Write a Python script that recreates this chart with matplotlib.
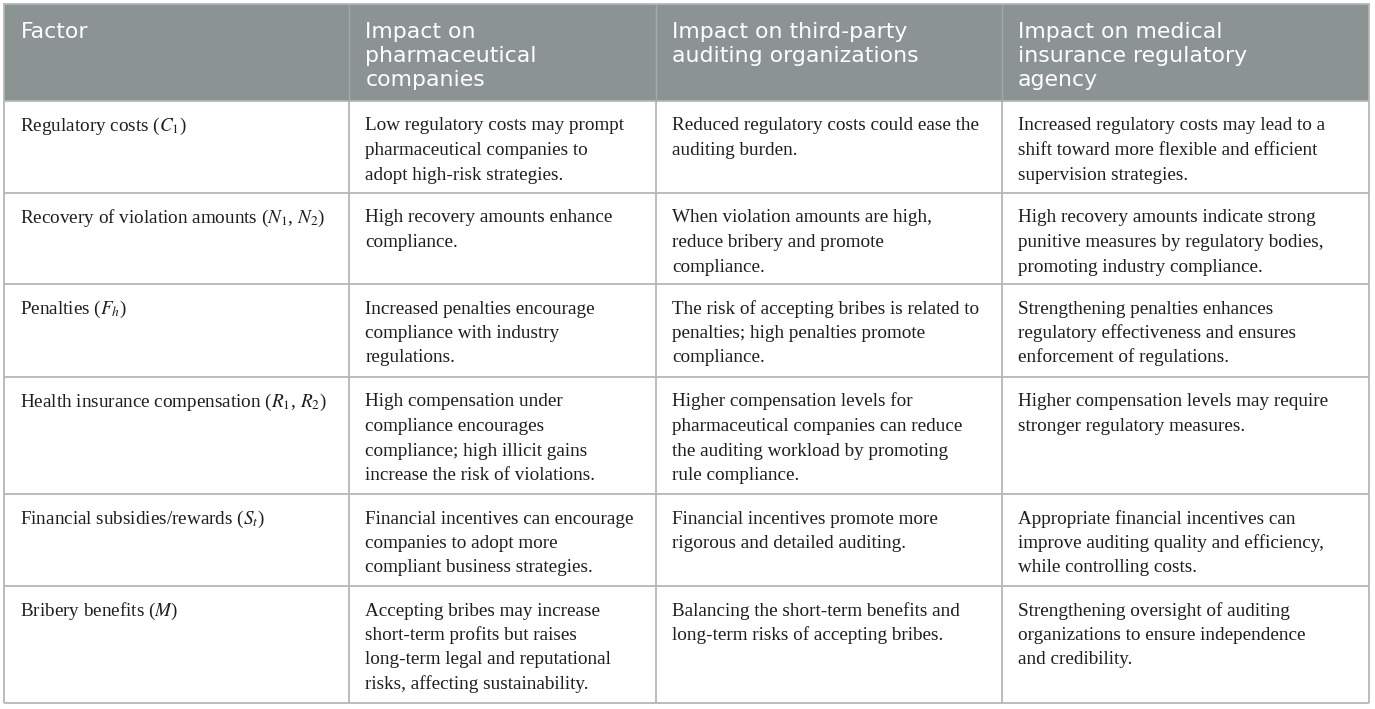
import matplotlib.pyplot as plt
from matplotlib.patches import Rectangle

plt.rcParams['mathtext.fontset'] = 'stix'

headers = [
    'Factor',
    'Impact on\npharmaceutical\ncompanies',
    'Impact on third-party\nauditing organizations',
    'Impact on medical\ninsurance regulatory\nagency',
]

factors = [
    'Regulatory costs ($C_1$)',
    'Recovery of violation amounts ($N_1$, $N_2$)',
    'Penalties ($F_h$)',
    'Health insurance compensation ($R_1$, $R_2$)',
    'Financial subsidies/rewards ($S_t$)',
    'Bribery benefits ($M$)',
]

pharma = [
    'Low regulatory costs may prompt\npharmaceutical companies to\nadopt high-risk strategies.',
    'High recovery amounts enhance\ncompliance.',
    'Increased penalties encourage\ncompliance with industry\nregulations.',
    'High compensation under\ncompliance encourages\ncompliance; high illicit gains\nincrease the risk of violations.',
    'Financial incentives can encourage\ncompanies to adopt more\ncompliant business strategies.',
    'Accepting bribes may increase\nshort-term profits but raises\nlong-term legal and reputational\nrisks, affecting sustainability.',
]

auditors = [
    'Reduced regulatory costs could ease the\nauditing burden.',
    'When violation amounts are high,\nreduce bribery and promote\ncompliance.',
    'The risk of accepting bribes is related to\npenalties; high penalties promote\ncompliance.',
    'Higher compensation levels for\npharmaceutical companies can reduce\nthe auditing workload by promoting\nrule compliance.',
    'Financial incentives promote more\nrigorous and detailed auditing.',
    'Balancing the short-term benefits and\nlong-term risks of accepting bribes.',
]

agency = [
    'Increased regulatory costs may lead to a\nshift toward more flexible and efficient\nsupervision strategies.',
    'High recovery amounts indicate strong\npunitive measures by regulatory bodies,\npromoting industry compliance.',
    'Strengthening penalties enhances\nregulatory effectiveness and ensures\nenforcement of regulations.',
    'Higher compensation levels may require\nstronger regulatory measures.',
    'Appropriate financial incentives can\nimprove auditing quality and efficiency,\nwhile controlling costs.',
    'Strengthening oversight of auditing\norganizations to ensure independence\nand credibility.',
]

# layout in pixels
W, H = 1375, 709
col_x = [4.5, 349.5, 656, 1002, 1369]
row_y = [4, 101, 193, 284, 377, 494, 586, 703]
pad = 16
line_h = 24.5
line_col = '#b3b7b7'
header_col = '#8b9393'

fig = plt.figure(figsize=(W / 100, H / 100), dpi=100)
ax = fig.add_axes([0, 0, 1, 1])
ax.set_xlim(0, W)
ax.set_ylim(H, 0)
ax.axis('off')


def cell_text(x, y, text, **kw):
    for k, line in enumerate(text.split('\n')):
        ax.text(x, y + k * line_h, line, va='baseline', ha='left', **kw)


ax.add_patch(Rectangle((col_x[0], row_y[0]), col_x[-1] - col_x[0], row_y[1] - row_y[0],
                       facecolor=header_col, edgecolor='none'))

for j, h in enumerate(headers):
    cell_text(col_x[j] + pad, row_y[0] + 33.5, h, color='white', fontsize=15.8,
              family='DejaVu Sans')

columns = [factors, pharma, auditors, agency]
for i in range(len(factors)):
    for j, col in enumerate(columns):
        cell_text(col_x[j] + pad, row_y[i + 1] + 29.5, col[i], color='#1e1e1e',
                  fontsize=13.8, family='Liberation Serif')

for y in row_y[1:]:
    ax.plot([col_x[0], col_x[-1]], [y, y], color=line_col, lw=1.3, solid_capstyle='butt')
for x in col_x:
    y0 = row_y[1] if x not in (col_x[0], col_x[-1]) else row_y[0]
    ax.plot([x, x], [y0, row_y[-1]], color=line_col, lw=1.3, solid_capstyle='butt')
for x in col_x[1:-1]:
    ax.plot([x, x], [row_y[0], row_y[1]], color='#a3aaaa', lw=1.0)
ax.plot([col_x[0], col_x[-1]], [row_y[0], row_y[0]], color=line_col, lw=1.3)

fig.savefig('out.png', dpi=100)
